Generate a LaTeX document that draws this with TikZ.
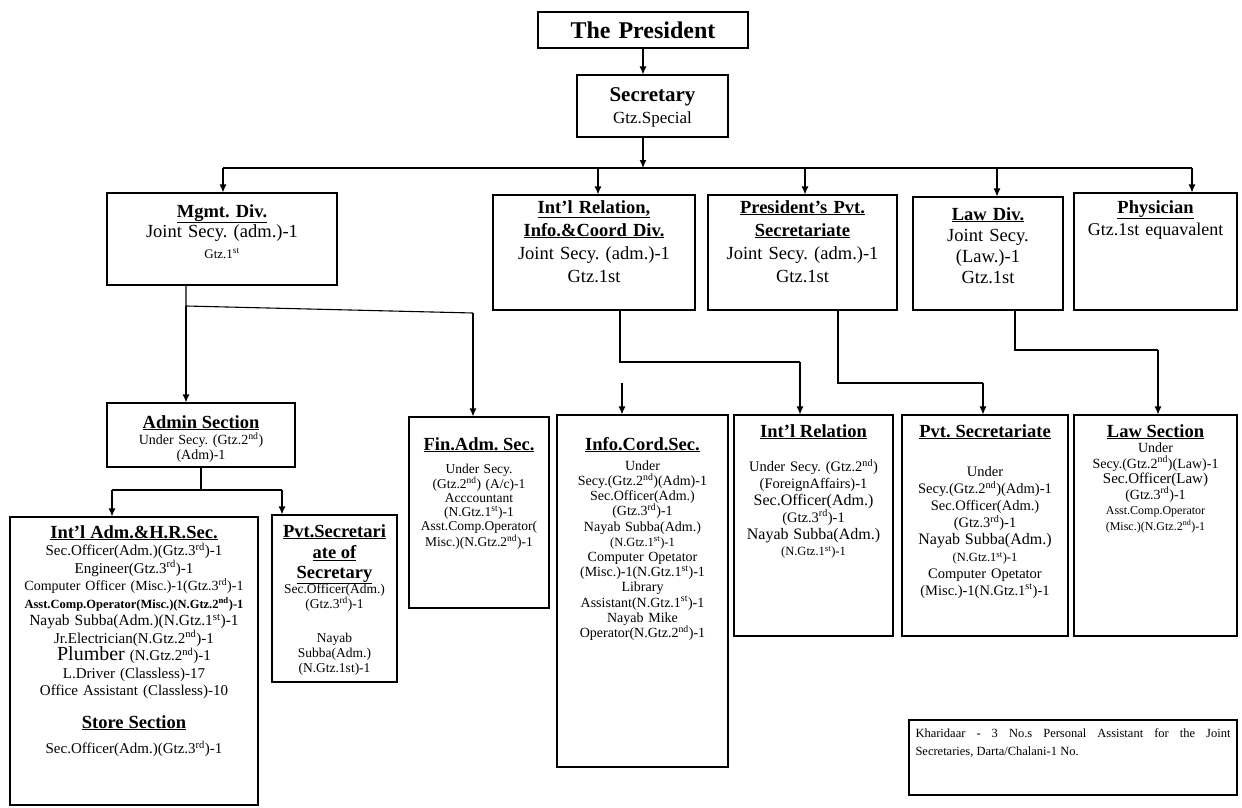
\documentclass[tikz,border=0pt]{standalone}
\usepackage{fontspec}
\setmainfont{Liberation Serif}
\usepackage{tikz}
\usetikzlibrary{arrows.meta, positioning}
\frenchspacing
\tikzstyle{arrow} = [line width=1.1pt,->,>={Latex[length=8pt,width=7pt]}]
\tikzstyle{link} = [line width=1.1pt]
\tikzstyle{box} = [rectangle, draw=black, line width=1.1pt]
\tikzstyle{txt} = [anchor=base, text width=260pt, align=center, inner sep=0pt]
\newcommand{\ttl}[1]{{\fontsize{18.5}{20}\selectfont\underline{\textbf{#1}}}}
\newcommand{\fsz}[1]{\fontsize{#1}{#1}\selectfont}

\begin{document}
\begin{tikzpicture}[x=1pt, y=-1pt]
		\useasboundingbox (0,0) rectangle (1242,808);
		% top
		\node (pres) [box, minimum width=210pt, minimum height=36pt] at (643,30) {};
		\node (prestxt) [txt, font=\fontsize{24}{26}\selectfont] at (643,39) {\textbf{The President}};
		\node (secy) [box, minimum width=151pt, minimum height=62pt] at (652.5,106) {};
		\node (secytxt) [txt, font=\fontsize{17}{22}\selectfont] at (652.5,101) {{\fsz{21}\textbf{Secretary}}\\Gtz.Special};
		% bus
		\coordinate (busL) at (223,168);
		\coordinate (busR) at (1192,168);
		\coordinate (tapI) at (598,168);
		\coordinate (tapP) at (805,168);
		\coordinate (tapL) at (997,168);
		% divisions
		\node (mgmt) [box, minimum width=230pt, minimum height=92pt] at (222,239) {};
		\node (mgmttxt) [txt, font=\fontsize{18.5}{20.5}\selectfont] at (222,217) {\ttl{Mgmt. Div.}\\Joint Secy. (adm.)-1\\{\fsz{13}Gtz.1\textsuperscript{st}}};
		\node (intdiv) [box, minimum width=202pt, minimum height=115pt] at (594,252.5) {};
		\node (intdivtxt) [txt, font=\fontsize{18.5}{23}\selectfont] at (594,213) {\ttl{Int'l Relation,}\\\ttl{Info.\&Coord Div.}\\Joint Secy. (adm.)-1\\Gtz.1st};
		\node (pvtdiv) [box, minimum width=189pt, minimum height=115pt] at (802.5,252.5) {};
		\node (pvtdivtxt) [txt, font=\fontsize{18.5}{23}\selectfont] at (802.5,213) {\ttl{President's Pvt.}\\\ttl{Secretariate}\\Joint Secy. (adm.)-1\\Gtz.1st};
		\node (lawdiv) [box, minimum width=150pt, minimum height=113pt] at (988,253.5) {};
		\node (lawdivtxt) [txt, font=\fontsize{18.5}{21}\selectfont] at (988,220) {\ttl{Law Div.}\\Joint Secy.\\(Law.)-1\\Gtz.1st};
		\node (phys) [box, minimum width=163pt, minimum height=117pt] at (1155.5,251.5) {};
		\node (phystxt) [txt, font=\fontsize{18}{22}\selectfont] at (1155.5,213) {\ttl{Physician}\\Gtz.1st equavalent};
		% sections
		\node (admin) [box, minimum width=188pt, minimum height=64pt] at (201,435) {};
		\node (admintxt) [txt, font=\fontsize{14}{14.5}\selectfont] at (201,428) {\ttl{Admin Section}\\[2pt]Under Secy. (Gtz.2\textsuperscript{nd})\\(Adm)-1};
		\node (fin) [box, minimum width=140pt, minimum height=191pt] at (479,512.5) {};
		\node (fintxt) [txt, font=\fontsize{13.5}{14}\selectfont] at (479,450) {\ttl{Fin.Adm. Sec.}\\[9pt]Under Secy.\\(Gtz.2\textsuperscript{nd}) (A/c)-1\\Acccountant\\(N.Gtz.1\textsuperscript{st})-1\\Asst.Comp.Operator(\\Misc.)(N.Gtz.2\textsuperscript{nd})-1};
		\node (info) [box, minimum width=171pt, minimum height=352pt] at (642.5,591) {};
		\node (infotxt) [txt, font=\fontsize{14}{15.2}\selectfont] at (642.5,450) {\ttl{Info.Cord.Sec.}\\[5pt]Under\\Secy.(Gtz.2\textsuperscript{nd})(Adm)-1\\Sec.Officer(Adm.)\\(Gtz.3\textsuperscript{rd})-1\\Nayab Subba(Adm.)\\{\fsz{12.5}(N.Gtz.1\textsuperscript{st})-1}\\Computer Opetator\\(Misc.)-1(N.Gtz.1\textsuperscript{st})-1\\Library\\Assistant(N.Gtz.1\textsuperscript{st})-1\\Nayab Mike\\Operator(N.Gtz.2\textsuperscript{nd})-1};
		\node (intrel) [box, minimum width=159pt, minimum height=221pt] at (813.5,525.5) {};
		\node (intreltxt) [txt, font=\fontsize{14.5}{16.8}\selectfont] at (813.5,437) {\ttl{Int'l Relation}\\[18pt]Under Secy. (Gtz.2\textsuperscript{nd})\\(ForeignAffairs)-1\\{\fsz{16}Sec.Officer(Adm.)}\\(Gtz.3\textsuperscript{rd})-1\\{\fsz{16}Nayab Subba(Adm.)}\\{\fsz{12.5}(N.Gtz.1\textsuperscript{st})-1}};
		\node (pvtsec) [box, minimum width=166pt, minimum height=221pt] at (985,525.5) {};
		\node (pvtsectxt) [txt, font=\fontsize{14.5}{16.9}\selectfont] at (985,437) {\ttl{Pvt. Secretariate}\\[23pt]Under\\Secy.(Gtz.2\textsuperscript{nd})(Adm)-1\\Sec.Officer(Adm.)\\(Gtz.3\textsuperscript{rd})-1\\{\fsz{16}Nayab Subba(Adm.)}\\{\fsz{12.5}(N.Gtz.1\textsuperscript{st})-1}\\Computer Opetator\\(Misc.)-1(N.Gtz.1\textsuperscript{st})-1};
		\node (lawsec) [box, minimum width=163pt, minimum height=221pt] at (1155.5,525.5) {};
		\node (lawsectxt) [txt, font=\fontsize{14}{15.5}\selectfont] at (1155.5,437) {\ttl{Law Section}\\Under\\Secy.(Gtz.2\textsuperscript{nd})(Law)-1\\{\fsz{15}Sec.Officer(Law)}\\(Gtz.3\textsuperscript{rd})-1\\{\fsz{12}Asst.Comp.Operator}\\{\fsz{12}(Misc.)(N.Gtz.2\textsuperscript{nd})-1}};
		% admin subsections
		\node (hrsec) [box, minimum width=248pt, minimum height=288pt] at (134,661) {};
		\node (hrsectxt) [txt, font=\fontsize{15}{17.5}\selectfont] at (134,538) {\ttl{Int'l Adm.\&H.R.Sec.}\\Sec.Officer(Adm.)(Gtz.3\textsuperscript{rd})-1\\Engineer(Gtz.3\textsuperscript{rd})-1\\{\fsz{14}Computer Officer (Misc.)-1(Gtz.3\textsuperscript{rd})-1}\\{\fsz{12.5}\textbf{Asst.Comp.Operator(Misc.)(N.Gtz.2\textsuperscript{nd})-1}}\\{\fsz{15.5}Nayab Subba(Adm.)(N.Gtz.1\textsuperscript{st})-1}\\Jr.Electrician(N.Gtz.2\textsuperscript{nd})-1\\{\fsz{20}Plumber} (N.Gtz.2\textsuperscript{nd})-1\\L.Driver (Classless)-17\\Office Assistant (Classless)-10\\[15pt]\ttl{Store Section}\\[8pt]Sec.Officer(Adm.)(Gtz.3\textsuperscript{rd})-1};
		\node (pvtsecy) [box, minimum width=125pt, minimum height=167pt] at (334.5,598.5) {};
		\node (pvtsecytxt) [txt, font=\fontsize{13.5}{15}\selectfont] at (334.5,537) {\ttl{Pvt.Secretari}\\[5pt]\ttl{ate of}\\[5pt]\ttl{Secretary}\\[-1pt]Sec.Officer(Adm.)\\(Gtz.3\textsuperscript{rd})-1\\[19pt]Nayab\\Subba(Adm.)\\(N.Gtz.1st)-1};
		% note
		\node (khar) [box, minimum width=328pt, minimum height=75pt] at (1073,757.5) {};
		\node (khartxt) [anchor=base, text width=315pt, align=justify, inner sep=0pt, font=\fontsize{12.5}{18}\selectfont] at (1073,737) {Kharidaar - 3 No.s Personal Assistant for the Joint\linebreak Secretaries, Darta/Chalani-1 No.};
		% connectors
		\draw [arrow] (pres) -- (pres |- secy.north);
		\draw [arrow] (pres |- secy.south) -- (pres |- busL);
		\draw [link] (busL) -- (busR);
		\draw [arrow] (busL) -- (busL |- mgmt.north);
		\draw [arrow] (tapI) -- (tapI |- intdiv.north);
		\draw [arrow] (tapP) -- (tapP |- pvtdiv.north);
		\draw [arrow] (tapL) -- (tapL |- lawdiv.north);
		\draw [arrow] (busR) -- (busR |- phys.north);
		\coordinate (mA) at (186,306);
		\coordinate (mB) at (473,313);
		\draw [link] (mA |- mgmt.south) -- (mA) -- (mB);
		\draw [arrow] (mB) -- (mB |- fin.north);
		\draw [arrow] (mA) -- (mA |- admin.north);
		\coordinate (aA) at (201,490);
		\coordinate (aL) at (112,490);
		\coordinate (aR) at (282,490);
		\draw [link] (aA |- admin.south) -- (aA);
		\draw [link] (aL) -- (aR);
		\draw [arrow] (aL) -- (aL |- hrsec.north);
		\draw [arrow] (aR) -- (aR |- pvtsecy.north);
		\coordinate (iA) at (620,362);
		\coordinate (iB) at (800,362);
		\draw [link] (iA |- intdiv.south) -- (iA) -- (iB);
		\draw [arrow] (iB) -- (iB |- intrel.north);
		\coordinate (iC) at (622,383);
		\draw [arrow] (iC) -- (iC |- info.north);
		\coordinate (pA) at (838,383);
		\coordinate (pB) at (983,383);
		\draw [link] (pA |- pvtdiv.south) -- (pA) -- (pB);
		\draw [arrow] (pB) -- (pB |- pvtsec.north);
		\coordinate (lA) at (1015,350);
		\coordinate (lB) at (1158,350);
		\draw [link] (lA |- lawdiv.south) -- (lA) -- (lB);
		\draw [arrow] (lB) -- (lB |- lawsec.north);
	\end{tikzpicture}
\end{document}
